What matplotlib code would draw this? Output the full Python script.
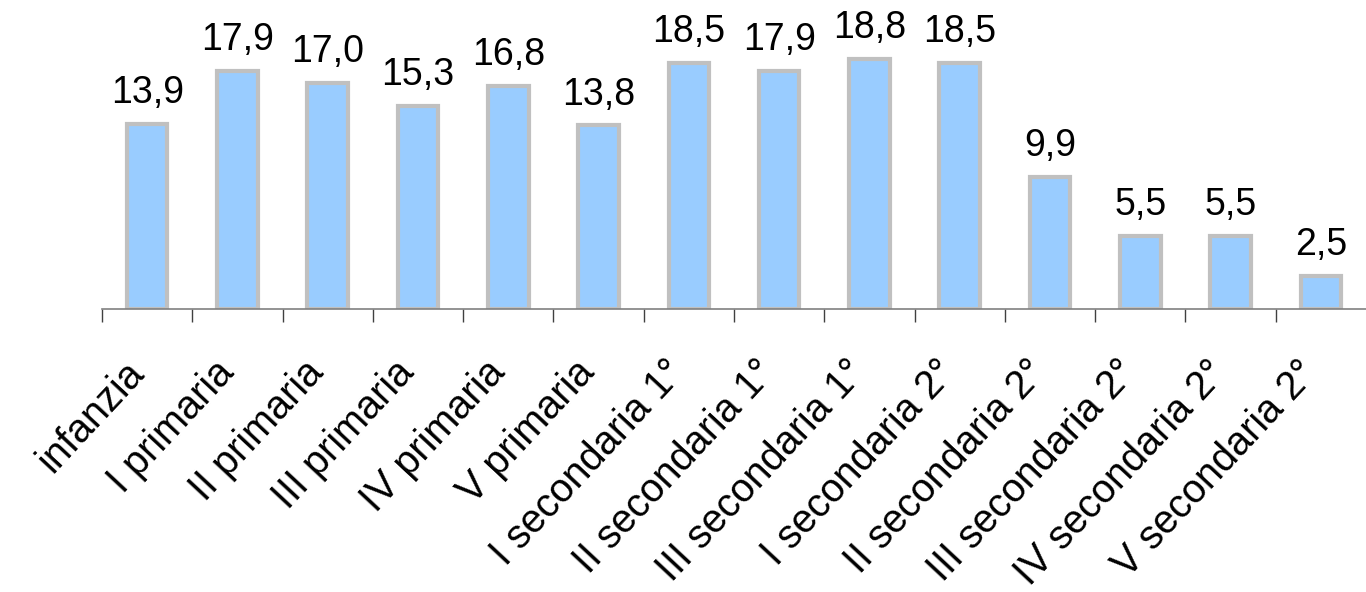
import matplotlib
matplotlib.use("Agg")
import matplotlib.pyplot as plt
import matplotlib.transforms as mtransforms
import numpy as np

plt.rcParams['font.family'] = ['Liberation Sans', 'DejaVu Sans']

categories = ["infanzia", "I primaria", "II primaria", "III primaria", "IV primaria",
              "V primaria", "I secondaria 1°", "II secondaria 1°", "III secondaria 1°",
              "I secondaria 2°", "II secondaria 2°", "III secondaria 2°",
              "IV secondaria 2°", "V secondaria 2°"]
values = [13.9, 17.9, 17.0, 15.3, 16.8, 13.8, 18.5, 17.9, 18.8, 18.5, 9.9, 5.5, 5.5, 2.5]

fig = plt.figure(figsize=(13.66, 5.92), dpi=100)
ax = fig.add_axes([102 / 1366, (592 - 309) / 592, 1264 / 1366, 309 / 592])

x = np.arange(len(categories))
ax.bar(x, values, width=0.45, color='#99CCFF', edgecolor='#C0C0C0', linewidth=3.0, zorder=2)

# value labels above bars, decimal comma
for xi, v in zip(x, values):
    ax.annotate(f"{v:.1f}".replace('.', ','), (xi, v), xytext=(0, 15),
                textcoords='offset points', ha='center', va='baseline', fontsize=27)

ax.set_xlim(-0.5, len(categories) - 0.5)
ax.set_ylim(0, 309 / 13.3)

for s in ['top', 'right', 'left']:
    ax.spines[s].set_visible(False)
ax.spines['bottom'].set_color('#808080')
ax.spines['bottom'].set_linewidth(1.2)
ax.set_yticks([])

ax.set_xticks(x)
ax.set_xticklabels(categories, rotation=47, ha='right', va='top', rotation_mode='anchor', fontsize=28.5)
ax.tick_params(axis='x', which='major', length=0, pad=32)
ax.set_xticks(np.arange(len(categories)) - 0.5, minor=True)
ax.tick_params(axis='x', which='minor', length=9.5, width=1.0, color='#404040', direction='out')

shift = mtransforms.ScaledTranslation(-24 / 100, 0, fig.dpi_scale_trans)
for lab in ax.get_xticklabels():
    lab.set_transform(lab.get_transform() + shift)

fig.savefig("out.png", dpi=100)
